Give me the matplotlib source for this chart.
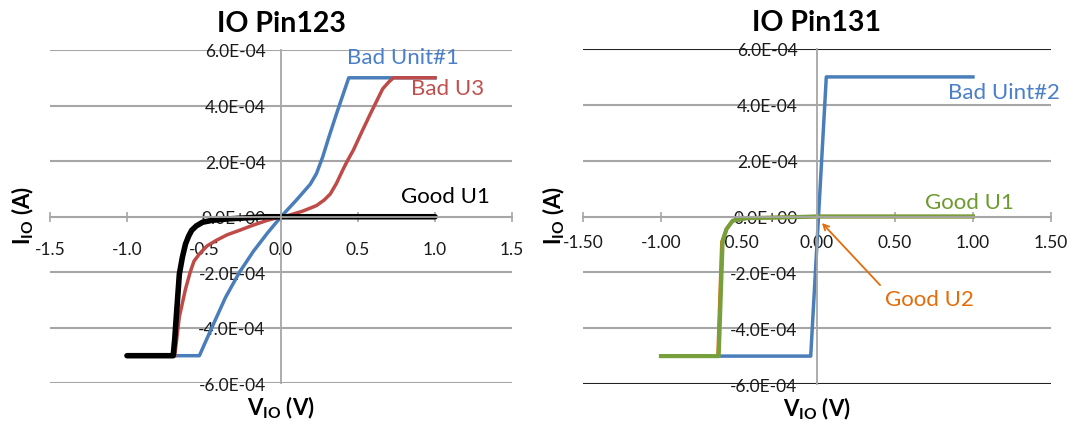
import matplotlib
matplotlib.use('Agg')
import matplotlib.pyplot as plt

plt.rcParams['font.family'] = ['Lato', 'DejaVu Sans']
plt.rcParams['mathtext.fontset'] = 'custom'
plt.rcParams['mathtext.rm'] = 'Lato'
plt.rcParams['mathtext.bf'] = 'Lato:bold'

# ---- data (V in volts, I in 1e-4 A) ----
# IO Pin123
bad1_v = [-0.67, -0.53, -0.45, -0.36, -0.27, -0.18, -0.09, 0.0, 0.05, 0.10, 0.19, 0.23, 0.27, 0.31, 0.36, 0.40, 0.44, 1.0]
bad1_i = [-5.0, -5.0, -4.0, -2.9, -2.0, -1.25, -0.6, 0.0, 0.3, 0.6, 1.17, 1.55, 2.14, 2.85, 3.7, 4.35, 5.0, 5.0]
bad3_v = [-0.69, -0.675, -0.66, -0.62, -0.59, -0.565, -0.53, -0.48, -0.42, -0.35, -0.27, -0.18, -0.09, 0.0,
          0.05, 0.14, 0.23, 0.28, 0.32, 0.36, 0.40, 0.43, 0.47, 0.52, 0.58, 0.66, 0.70, 0.73, 1.0]
bad3_i = [-5.0, -4.3, -3.6, -2.6, -2.0, -1.6, -1.34, -1.05, -0.85, -0.65, -0.49, -0.3, -0.13, 0.0,
          0.05, 0.2, 0.4, 0.6, 0.82, 1.2, 1.67, 2.0, 2.4, 3.0, 3.7, 4.6, 4.85, 5.0, 5.0]
good1_v = [-1.0, -0.70, -0.69, -0.68, -0.66, -0.64, -0.62, -0.60, -0.58, -0.55, -0.51, -0.45, -0.35, -0.1, 1.0]
good1_i = [-5.0, -5.0, -4.4, -3.6, -2.06, -1.45, -0.98, -0.7, -0.49, -0.33, -0.2, -0.13, -0.08, 0.0, 0.0]

# IO Pin131
bad2_v = [-0.62, -0.04, 0.06, 1.0]
bad2_i = [-5.0, -5.0, 5.0, 5.0]
good1b_v = [-1.0, -0.63, -0.605, -0.58, -0.54, -0.45, -0.2, 0.0, 1.0]
good1b_i = [-5.0, -5.0, -0.91, -0.45, -0.15, -0.06, -0.03, 0.0, 0.0]
good2_v = [-1.0, -0.635, -0.61, -0.58, -0.54, -0.45, -0.2, 0.0, 1.0]
good2_i = [-5.0, -5.0, -0.91, -0.45, -0.15, -0.06, -0.03, 0.0, 0.0]

y_ticks = [-6, -4, -2, 0, 2, 4, 6]
y_labels = ['-6.0E-04', '-4.0E-04', '-2.0E-04', '0.0E+00', '2.0E-04', '4.0E-04', '6.0E-04']
x_ticks = [-1.5, -1.0, -0.5, 0.0, 0.5, 1.0, 1.5]
x_labels1 = ['-1.5', '-1.0', '-0.5', '0.0', '0.5', '1.0', '1.5']
x_labels2 = ['-1.50', '-1.00', '-0.50', '0.00', '0.50', '1.00', '1.50']

blue = '#4a7ebb'
red = '#be4b48'
green = '#77a03c'
orange = '#e46c0a'
grid_c = '#a6a6a6'

fig = plt.figure(figsize=(10.75, 4.31), dpi=100)
ax1 = fig.add_axes([0.0465, 0.1079, 0.4298, 0.7738])
ax2 = fig.add_axes([0.5423, 0.1067, 0.4353, 0.7773])


def style(ax, xlabels, xpad, ypad):
	ax.set_xlim(-1.5, 1.5)
	ax.set_ylim(-6, 6)
	for s in ['top', 'right']:
		ax.spines[s].set_visible(False)
	ax.spines['bottom'].set_position(('data', 0))
	ax.spines['left'].set_position(('data', 0))
	for s in ['bottom', 'left']:
		ax.spines[s].set_color(grid_c)
		ax.spines[s].set_linewidth(1.3)
	ax.set_xticks(x_ticks)
	ax.set_xticklabels(xlabels)
	ax.set_yticks(y_ticks)
	ax.set_yticklabels(y_labels)
	ax.tick_params(axis='x', direction='inout', length=7, width=1.2, color=grid_c,
				   labelsize=12.5, pad=xpad, labelcolor='#1a1a1a')
	ax.tick_params(axis='y', length=0, labelsize=12.5, pad=ypad, labelcolor='#1a1a1a')
	ax.yaxis.grid(True, color=grid_c, linewidth=1.5)
	ax.set_axisbelow(True)
	ax.text(0.5, -0.07, r'$\mathbf{V_{IO}}$ (V)', transform=ax.transAxes,
			ha='center', va='center', fontsize=16, fontweight='bold')


style(ax1, x_labels1, 14, 11)
style(ax2, x_labels2, 9, 14)

# left panel
ax1.plot(bad1_v, bad1_i, color=blue, linewidth=2.5, solid_joinstyle='round')
ax1.plot(bad3_v, bad3_i, color=red, linewidth=2.5, solid_joinstyle='round')
ax1.plot(good1_v, good1_i, color='black', linewidth=4, solid_capstyle='round', solid_joinstyle='round')
ax1.text(0.79, 5.74, 'Bad Unit#1', color='#4a7fc9', fontsize=16, ha='center', va='center')
ax1.text(1.08, 4.63, 'Bad U3', color='#c0504d', fontsize=16, ha='center', va='center')
ax1.text(1.065, 0.74, 'Good U1', color='black', fontsize=16, ha='center', va='center')
ax1.set_title('IO Pin123', fontsize=20.5, fontweight='bold', pad=14)
fig.text(0.0215, 0.50, r'$\mathbf{I_{IO}}$ (A)', rotation=90, ha='center', va='center',
		 fontsize=16, fontweight='bold')

# right panel
gl = ax2.get_ygridlines()
gl[0].set_color('#222222')
gl[-1].set_color('#222222')
ax2.plot(good2_v, good2_i, color=orange, linewidth=2.5)
ax2.plot(bad2_v, bad2_i, color=blue, linewidth=2.5)
ax2.plot(good1b_v, good1b_i, color=green, linewidth=3, solid_joinstyle='round')
ax2.text(1.2, 4.46, 'Bad Uint#2', color='#4a7fc9', fontsize=16, ha='center', va='center')
ax2.text(0.98, 0.52, 'Good U1', color='#6d9a2f', fontsize=16, ha='center', va='center')
ax2.text(0.72, -2.96, 'Good U2', color=orange, fontsize=16, ha='center', va='center')
ax2.annotate('', xy=(0.02, -0.16), xytext=(0.417, -2.53),
			 arrowprops=dict(arrowstyle='->', color=orange, linewidth=1.3))
ax2.set_title('IO Pin131', fontsize=20.5, fontweight='bold', pad=14)
fig.text(0.5155, 0.50, r'$\mathbf{I_{IO}}$ (A)', rotation=90, ha='center', va='center',
		 fontsize=16, fontweight='bold')

fig.savefig('out.png', dpi=100)
